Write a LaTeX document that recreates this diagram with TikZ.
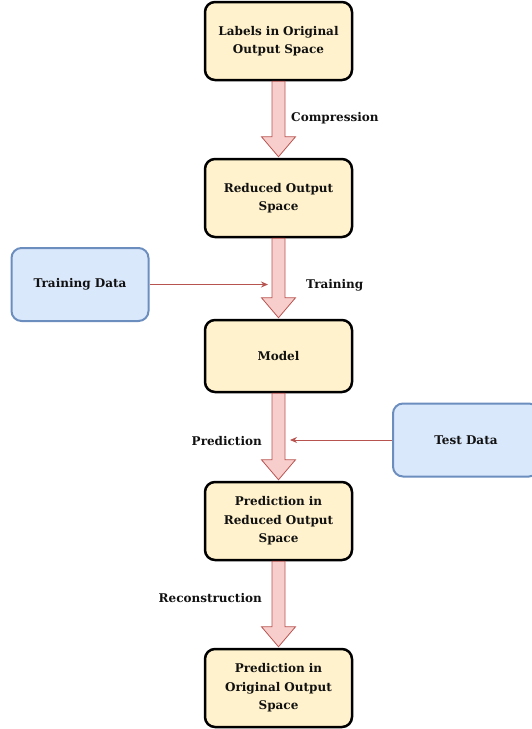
\documentclass[tikz,border=0pt]{standalone}
\usepackage{fontspec}
\setmainfont{DejaVu Serif}
\usetikzlibrary{calc,arrows.meta}
\definecolor{yfill}{HTML}{FFF2CC}
\definecolor{bfill}{HTML}{DAE8FC}
\definecolor{bline}{HTML}{6C8EBF}
\definecolor{rfill}{HTML}{F8CECC}
\definecolor{rline}{HTML}{B85450}
\definecolor{txt}{HTML}{111111}
\tikzset{
  ybox/.style={draw=black, fill=yfill, rounded corners=10pt, line width=2.5pt,
    minimum width=147pt, minimum height=78pt, align=center, text width=140pt,
    font=\bfseries\fontsize{12}{18.5}\selectfont, text=txt},
  bbox/.style={draw=bline, fill=bfill, rounded corners=10pt, line width=2pt,
    minimum width=137pt, minimum height=73pt, align=center,
    font=\bfseries\fontsize{12}{18.5}\selectfont, text=txt},
  barrow/.style={draw=rline, fill=rfill, line width=0.8pt, line join=miter},
  thinarrow/.style={draw=rline, line width=0.9pt, -{Stealth[length=7pt,width=6pt]}},
  lbl/.style={font=\bfseries\fontsize{12}{14}\selectfont, text=txt, inner sep=0pt}
}
\newcommand\blockarr[2]{%
  \path[barrow] let \p1=(#1.south), \p2=(#2.north) in
    (\x1-6.5pt,\y1) -- (\x1+6.5pt,\y1) -- (\x1+6.5pt,\y2+21pt) -- (\x1+17pt,\y2+21pt)
    -- (\x1,\y2+1pt) -- (\x1-17pt,\y2+21pt) -- (\x1-6.5pt,\y2+21pt) -- cycle;}
\begin{document}
\begin{tikzpicture}[x=1pt,y=-1pt]
\useasboundingbox (0,0) rectangle (531,729);
\node[ybox] (a) at (278.5,41) {Labels in Original\\Output Space};
\node[ybox] (b) at (278.5,198) {Reduced Output\\Space};
\node[ybox, minimum height=72pt] (c) at (278.5,356) {Model};
\node[ybox] (d) at (278.5,521) {Prediction in\\Reduced Output\\Space};
\node[ybox] (e) at (278.5,688) {Prediction in\\Original Output\\Space};
\node[bbox] (tr) at (80,284.5) {Training Data};
\node[bbox, minimum width=146pt] (te) at (466,440) {Test Data};
\blockarr{a}{b}
\blockarr{b}{c}
\blockarr{c}{d}
\blockarr{d}{e}
\coordinate (trend) at (268,284.5);
\coordinate (teend) at (290,440);
\draw[thinarrow] (tr.east) -- (trend);
\draw[thinarrow] (te.west) -- (teend);
\node[lbl, anchor=west] (l1) at (291,118) {Compression};
\node[lbl, anchor=west] (l2) at (306,285) {Training};
\node[lbl, anchor=east] (l3) at (262,441) {Prediction};
\node[lbl, anchor=east] (l4) at (262,598) {Reconstruction};
\end{tikzpicture}
\end{document}
